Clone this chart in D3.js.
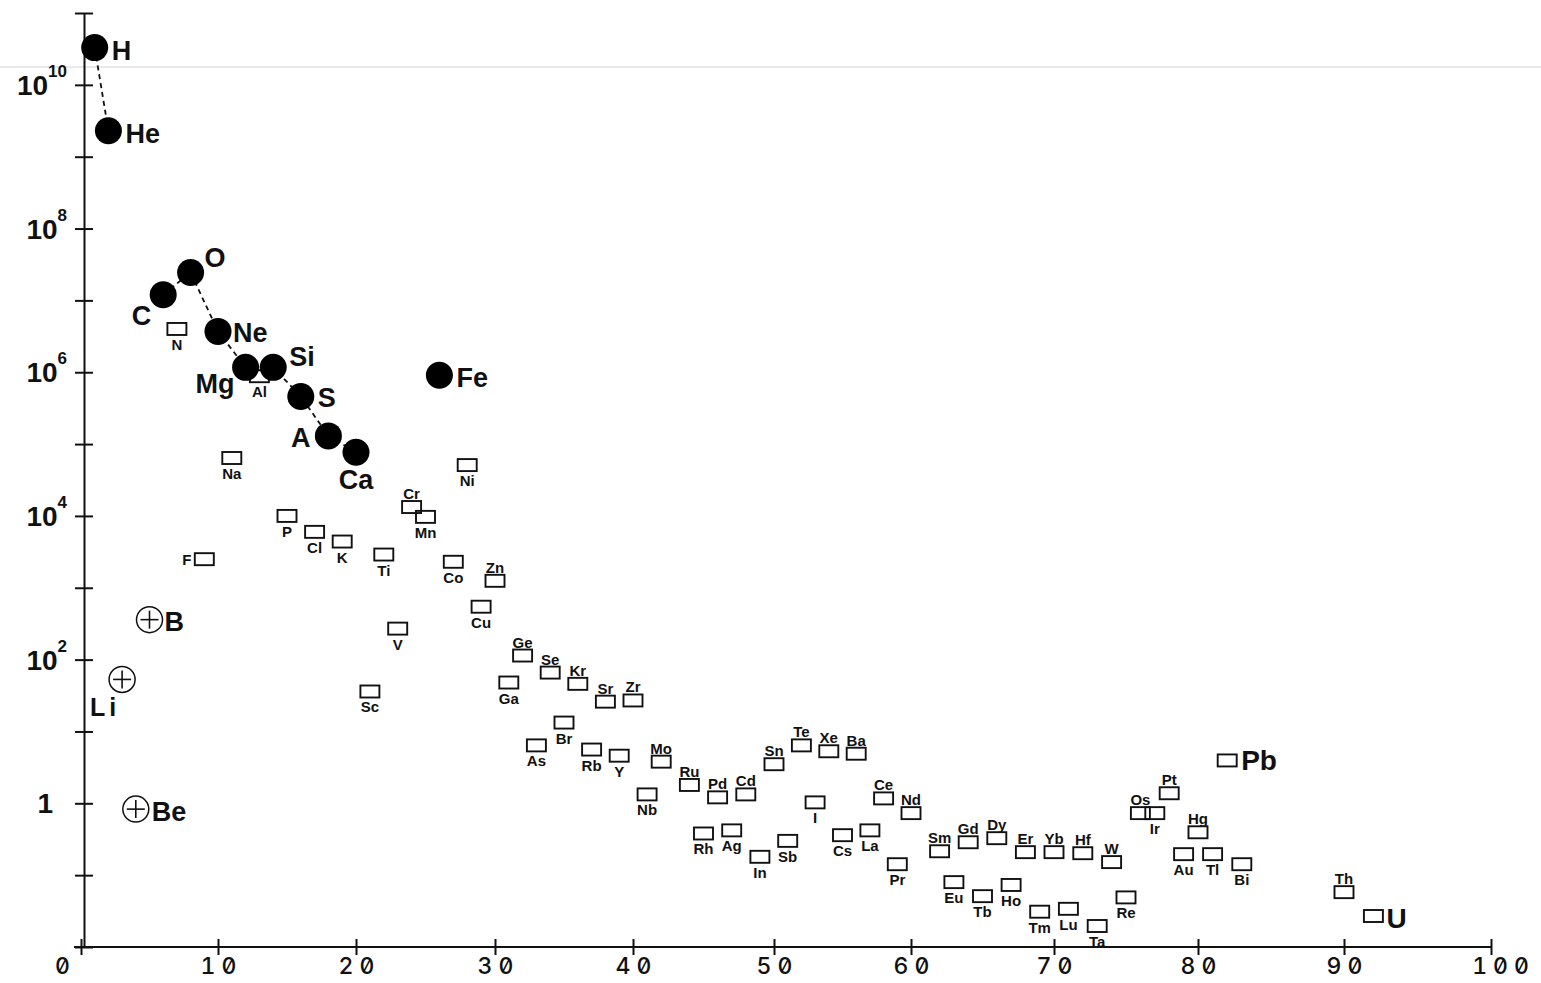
<!DOCTYPE html>
<html><head><meta charset="utf-8">
<script src="https://cdn.jsdelivr.net/npm/d3@7"></script>
<style>
html,body{margin:0;padding:0;background:#fff;}
svg{display:block;}
</style></head><body>
<svg id="chart" width="1541" height="983"></svg>
<script>
// ---- data ----
const elements = ["H","He","Li","Be","B","C","N","O","F","Ne","Na","Mg","Al","Si","P","S","Cl","A","K","Ca",
  "Sc","Ti","V","Cr","Mn","Fe","Co","Ni","Cu","Zn","Ga","Ge","As","Se","Br","Kr","Rb","Sr","Y","Zr",
  "Nb","Mo","Ru","Rh","Pd","Ag","Cd","In","Sn","Sb","Te","I","Xe","Cs","Ba","La","Ce","Pr","Nd",
  "Sm","Eu","Gd","Tb","Dy","Ho","Er","Tm","Yb","Lu","Hf","Ta","W","Re","Os","Ir","Pt","Au","Hg","Tl","Pb","Bi","Th","U"];
const atomicNumber = [1,2,3,4,5,6,7,8,9,10,11,12,13,14,15,16,17,18,19,20,
  21,22,23,24,25,26,27,28,29,30,31,32,33,34,35,36,37,38,39,40,
  41,42,44,45,46,47,48,49,50,51,52,53,54,55,56,57,58,59,60,
  62,63,64,65,66,67,68,69,70,71,72,73,74,75,76,77,78,79,80,81,82,83,90,92];
const abundance = [3.3e10,2.3e9,53,0.83,360,1.2e7,4.0e6,2.45e7,2.5e3,3.7e6,6.4e4,1.17e6,8.8e5,1.17e6,1.0e4,4.6e5,6.0e3,1.3e5,4.4e3,7.7e4,
  36,2.9e3,270,1.33e4,9.7e3,9.1e5,2.3e3,5.1e4,545,1.25e3,48,114,6.4,66,13.3,46,5.6,26,4.6,27,
  1.33,3.8,1.8,0.38,1.21,0.42,1.33,0.18,3.5,0.30,6.4,1.03,5.3,0.36,4.9,0.42,1.17,0.142,0.73,
  0.215,0.080,0.287,0.051,0.327,0.073,0.209,0.031,0.209,0.034,0.202,0.0196,0.152,0.049,0.73,0.73,1.38,0.196,0.395,0.196,3.95,0.142,0.058,0.027];

const circleElements = ["H","He","C","O","Ne","Mg","Si","S","A","Ca","Fe"];
const crossElements = ["Li","Be","B"];
const chainLight = ["H","He"];
const chainMain = ["C","O","Ne","Mg","Si","S","A","Ca"];
const labelsAbove = ["Cr","Zn","Ge","Se","Kr","Sr","Zr","Mo","Ru","Pd","Cd","Sn","Te","Xe","Ba","Ce","Nd",
  "Sm","Gd","Dy","Er","Yb","Hf","W","Os","Pt","Hg","Th"];
const labelsLeft = ["F"];
const bigLabels = ["H","He","C","O","Ne","Mg","Si","S","A","Ca","Fe","Li","Be","B","Pb","U"];

const xTickValues = [0,10,20,30,40,50,60,70,80,90,100];
const xTickLabels = ["0","10","20","30","40","50","60","70","80","90","100"];
const yTickExponents = [-2,-1,0,1,2,3,4,5,6,7,8,9,10,11];
const yLabelExponents = [0,2,4,6,8,10];

// ---- layout ----
const svg = d3.select("#chart");
const W = 1541, H = 983;
const x = d3.scaleLinear().domain(xTickValues)
  .range([81,218,356,495,633,774,911,1054,1198,1344,1491]);
const y = d3.scaleLog().domain([1e-2,1e11]).range([947,13]);

const data = elements.map((e,i)=>({el:e, z:atomicNumber[i], v:abundance[i]}));
const byEl = new Map(data.map(d=>[d.el,d]));

// faint scan line
svg.append("line").attr("x1",0).attr("x2",W).attr("y1",67).attr("y2",67)
  .attr("stroke","#d4d4d4").attr("stroke-width",1.2);

// x axis
const xAxis = d3.axisBottom(x).tickValues(xTickValues).tickSize(8).tickSizeOuter(0)
  .tickFormat((d,i)=>xTickLabels[i]);
const gx = svg.append("g").attr("transform",`translate(0,${y(1e-2)})`).call(xAxis);
gx.select(".domain").remove();
gx.append("line").attr("x1",x(0)-7).attr("x2",x(100)).attr("stroke","#111").attr("stroke-width",2);
gx.selectAll(".tick line").attr("y1",-8).attr("stroke","#111").attr("stroke-width",2);
gx.selectAll(".tick text")
  .attr("y",11).attr("dy","0.71em")
  .style("font-family","Inter, 'DejaVu Sans', sans-serif")
  .style("font-size","23px").style("font-weight","500")
  .style("font-feature-settings","'zero' 1, 'tnum' 1")
  .style("letter-spacing","6px").attr("fill","#111")
  .attr("dx",(d)=> d===0 ? -16 : (d===100 ? 12 : 3));

// y axis
const yAxis = d3.axisLeft(y).tickValues(yTickExponents.map(p=>Math.pow(10,p)))
  .tickSize(9).tickSizeOuter(0).tickFormat("");
const gy = svg.append("g").attr("transform",`translate(${x(0)+3},0)`).call(yAxis);
gy.select(".domain").attr("stroke","#111").attr("stroke-width",2);
gy.selectAll(".tick line").attr("x1",9).attr("stroke","#111").attr("stroke-width",2);

const yl = svg.append("g").style("font-family","'Liberation Sans', Arial, sans-serif")
  .style("font-weight","bold").attr("fill","#111");
yLabelExponents.forEach(p=>{
  const t = yl.append("text").attr("text-anchor","end")
    .attr("x", p===0 ? 53 : 67).attr("y", y(Math.pow(10,p))+10).style("font-size","28px");
  if(p===0){ t.text("1"); }
  else {
    t.append("tspan").text("10");
    t.append("tspan").attr("dy",-18).style("font-size","17px").text(String(p));
  }
});

// connecting dashed lines
const line = d3.line().x(d=>x(d.z)).y(d=>y(d.v));
[chainLight, chainMain].forEach(ch=>{
  svg.append("path").datum(ch.map(e=>byEl.get(e))).attr("d",line)
    .attr("fill","none").attr("stroke","#111").attr("stroke-width",1.8).attr("stroke-dasharray","5,4");
});

// boxes
const boxData = data.filter(d=>!circleElements.includes(d.el) && !crossElements.includes(d.el));
svg.append("g").selectAll("rect").data(boxData).join("rect")
  .attr("x",d=>x(d.z)-9.5).attr("y",d=>y(d.v)-6).attr("width",19).attr("height",12)
  .attr("fill","none").attr("stroke","#111").attr("stroke-width",1.9);

// filled circles
svg.append("g").selectAll("circle").data(data.filter(d=>circleElements.includes(d.el))).join("circle")
  .attr("cx",d=>x(d.z)).attr("cy",d=>y(d.v)).attr("r",13.5).attr("fill","#000");

// circled crosses
const cg = svg.append("g").selectAll("g").data(data.filter(d=>crossElements.includes(d.el))).join("g")
  .attr("transform",d=>`translate(${x(d.z)},${y(d.v)})`);
cg.append("circle").attr("r",13).attr("fill","#fff").attr("stroke","#111").attr("stroke-width",1.5);
cg.append("line").attr("x1",-9).attr("x2",9).attr("stroke","#111").attr("stroke-width",1.6);
cg.append("line").attr("y1",-9).attr("y2",9).attr("stroke","#111").attr("stroke-width",1.6);

// labels
const bigOffsets = {
  H:[17,12,"start"], He:[17,12,"start"], Ne:[15,11,"start"], Fe:[17,12,"start"],
  B:[15,11,"start"], Be:[16,12,"start"], S:[17,11,"start"], Si:[16,-1,"start"],
  O:[14,-5,"start"], C:[-12,30,"end"], Mg:[-11,26,"end"], Li:[-2,37,"end"],
  A:[-18,11,"end"], Ca:[0,37,"middle"], Pb:[14,10,"start"], U:[13,12,"start"]
};
const lg = svg.append("g").style("font-family","'Liberation Sans', Arial, sans-serif")
  .style("font-weight","bold").attr("fill","#111");
data.forEach(d=>{
  const cx = x(d.z), cy = y(d.v);
  let dx=0, dy=21, anchor="middle", size=15;
  if(bigLabels.includes(d.el)){
    [dx,dy,anchor] = bigOffsets[d.el]; size=27;
  } else if(labelsAbove.includes(d.el)){ dy=-8; }
  else if(labelsLeft.includes(d.el)){ dx=-13; dy=6; anchor="end"; }
  const t = lg.append("text").attr("x",cx+dx).attr("y",cy+dy).attr("text-anchor",anchor)
    .style("font-size",size+"px").text(d.el);
  if(d.el==="Li") t.style("letter-spacing","4px").style("font-size","25px");
  if(d.el==="Pb"||d.el==="U") t.style("font-size","28px");
});
</script>
</body></html>
